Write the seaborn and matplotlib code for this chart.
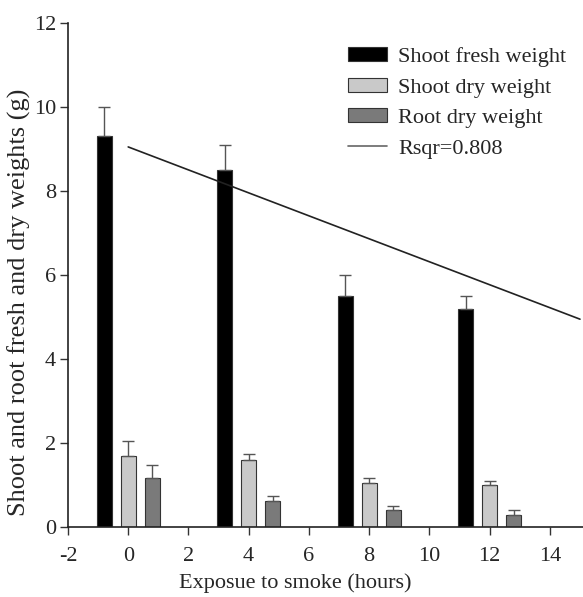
import matplotlib
matplotlib.use("Agg")
import matplotlib.pyplot as plt
import seaborn as sns
import pandas as pd
import numpy as np
from matplotlib.patches import Patch
from matplotlib.lines import Line2D

# ---- data ----
hours = [0, 4, 8, 12]
series_names = ["Shoot fresh weight", "Shoot dry weight", "Root dry weight"]
shoot_fresh = [9.3, 8.5, 5.5, 5.2]
shoot_fresh_err = [0.7, 0.6, 0.5, 0.3]
shoot_dry = [1.70, 1.61, 1.04, 1.00]
shoot_dry_err = [0.35, 0.12, 0.12, 0.09]
root_dry = [1.17, 0.62, 0.40, 0.30]
root_dry_err = [0.30, 0.12, 0.11, 0.10]
fit_x = [0, 15]
fit_y = [9.05, 4.95]
fit_label = "Rsqr=0.808"
x_ticks = [-2, 0, 2, 4, 6, 8, 10, 12, 14]
y_ticks = [0, 2, 4, 6, 8, 10, 12]

colors = ["#000000", "#c9c9c9", "#7a7a7a"]

df = pd.DataFrame({
    "hours": hours * 3,
    "value": shoot_fresh + shoot_dry + root_dry,
    "series": sum([[n] * len(hours) for n in series_names], []),
})
errs = [shoot_fresh_err, shoot_dry_err, root_dry_err]

sns.set_style("ticks")
plt.rcParams["font.family"] = ["Liberation Serif", "DejaVu Serif"]

fig = plt.figure(figsize=(5.83, 5.97), dpi=100)
ax = fig.add_axes([0.1166, 0.117, 0.8834, 0.8445])

sns.barplot(data=df, x="hours", y="value", hue="series", hue_order=series_names,
            palette=colors, native_scale=True, width=0.6, gap=0.375,
            edgecolor="#333333", linewidth=0.8, errorbar=None, legend=False, ax=ax)

for cont, err in zip(ax.containers, errs):
    xs = [b.get_x() + b.get_width() / 2 for b in cont]
    ys = [b.get_height() for b in cont]
    ax.errorbar(xs, ys, yerr=[np.zeros(len(err)), err], fmt="none",
                ecolor="#555555", elinewidth=1.0, capsize=4, capthick=1.0, zorder=1)

sns.lineplot(x=fit_x, y=fit_y, color="#222222", linewidth=1.2, ax=ax)

ax.set_xlim(-2, 15.1)
ax.set_ylim(0, 12)
ax.set_xticks(x_ticks)
ax.set_xticklabels([str(t) for t in x_ticks])
ax.set_yticks(y_ticks)
ax.tick_params(axis="both", labelsize=16, direction="out", length=5.5, width=1, color="#333333")
ax.tick_params(axis="x", pad=8.5)
ax.tick_params(axis="y", pad=3)
for s in ["left", "bottom"]:
    ax.spines[s].set_linewidth(1.2)
    ax.spines[s].set_color("#222222")
sns.despine(ax=ax)

ax.set_xlabel("Exposue to smoke (hours)", fontsize=16)
ax.xaxis.set_label_coords(0.4417, -0.0915)
ax.set_ylabel("Shoot and root fresh and dry weights (g)", fontsize=19)
ax.yaxis.set_label_coords(-0.071, 0.445)

handles = [Patch(facecolor=c, edgecolor="#333333", linewidth=0.8) for c in colors]
handles.append(Line2D([0], [0], color="#666666", linewidth=1.2))
ax.legend(handles, series_names + [fit_label], loc="upper left",
          bbox_to_anchor=(0.5437, 0.952), frameon=False, fontsize=16,
          borderpad=0, borderaxespad=0,
          handlelength=1.75, handleheight=0.6, handletextpad=0.5, labelspacing=0.48)

fig.savefig("out.png", dpi=100)
